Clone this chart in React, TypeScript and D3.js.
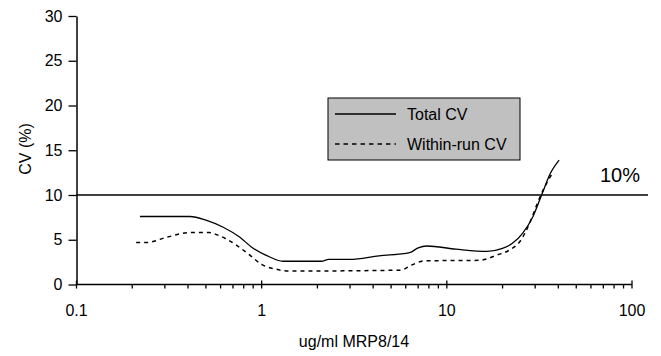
import * as d3 from 'd3';
import { useEffect, useRef } from 'react';

// MRP8/14 concentration (ug/ml) vs CV (%)
const totalX = [0.22, 0.41, 0.5, 0.62, 0.76, 0.88, 1.1, 1.3, 2.1, 2.3, 3.0, 4.3, 6.3, 7.0, 7.8, 11.2, 16.5, 19.8, 22.6, 25.7, 29.2, 32.5, 36.2, 40.4];
const totalCV = [7.6, 7.6, 7.2, 6.4, 5.3, 4.2, 3.1, 2.6, 2.6, 2.8, 2.8, 3.2, 3.55, 4.1, 4.3, 3.95, 3.7, 4.0, 4.6, 5.75, 7.6, 10.0, 12.4, 13.9];

const withinX = [0.21, 0.24, 0.31, 0.41, 0.52, 0.59, 0.73, 0.86, 1.0, 1.2, 1.4, 5.6, 6.5, 7.6, 15, 18.7, 21.8, 24.8, 28.2, 30.6, 33.2, 37.6];
const withinCV = [4.7, 4.7, 5.3, 5.8, 5.8, 5.45, 4.4, 3.3, 2.25, 1.7, 1.5, 1.6, 2.2, 2.65, 2.7, 3.3, 3.85, 4.8, 7.0, 8.9, 10.6, 12.6];

const xMajor = [0.1, 1, 10, 100];
const xLabels = ['0.1', '1', '10', '100'];
const yTicks = [0, 5, 10, 15, 20, 25, 30];
const limitCV = 10;

export default function App() {
  const ref = useRef<SVGSVGElement | null>(null);

  useEffect(() => {
    const svg = d3.select(ref.current);
    svg.selectAll('*').remove();
    const font = '"Liberation Sans", Arial, sans-serif';

    const x = d3.scaleLog().domain([0.1, 100]).range([76.5, 632]);
    const y = d3.scaleLinear().domain([0, 30]).range([284.5, 16]);

    // 10% line
    svg.append('line')
      .attr('x1', x(0.1)).attr('x2', 648)
      .attr('y1', y(limitCV)).attr('y2', y(limitCV))
      .attr('stroke', '#000').attr('stroke-width', 1.5);
    svg.append('text')
      .attr('x', 600).attr('y', 182)
      .attr('font-family', font).attr('font-size', 20)
      .text('10%');

    // y axis
    const ya = svg.append('g').attr('transform', `translate(${x(0.1)},0)`);
    ya.call(d3.axisLeft(y).tickValues(yTicks).tickSize(8).tickPadding(6).tickSizeOuter(0));
    ya.select('.domain').attr('stroke', '#000').attr('stroke-width', 1.5);
    ya.selectAll('.tick line').attr('stroke', '#000').attr('stroke-width', 1.3);
    ya.selectAll('text').attr('font-family', font).attr('font-size', 16).attr('fill', '#000');

    // x axis
    const minor: number[] = [];
    [0.1, 1, 10].forEach((d) => { for (let k = 2; k <= 9; k++) minor.push(d * k); });
    const xa = svg.append('g');
    xa.append('line')
      .attr('x1', x(0.1)).attr('x2', x(100))
      .attr('y1', y(0)).attr('y2', y(0))
      .attr('stroke', '#000').attr('stroke-width', 1.5);
    xa.selectAll('line.minor').data(minor).enter().append('line')
      .attr('class', 'minor')
      .attr('x1', (d) => x(d)).attr('x2', (d) => x(d))
      .attr('y1', y(0)).attr('y2', y(0) + 4)
      .attr('stroke', '#000').attr('stroke-width', 1.3);
    xa.selectAll('line.major').data(xMajor).enter().append('line')
      .attr('class', 'major')
      .attr('x1', (d) => x(d)).attr('x2', (d) => x(d))
      .attr('y1', y(0) - 4).attr('y2', y(0) + 4)
      .attr('stroke', '#000').attr('stroke-width', 1.3);
    xa.selectAll('text').data(xMajor).enter().append('text')
      .attr('x', (d) => x(d)).attr('y', 316)
      .attr('text-anchor', 'middle')
      .attr('font-family', font).attr('font-size', 16)
      .text((_, i) => xLabels[i]);

    svg.append('text')
      .attr('x', 354).attr('y', 347)
      .attr('text-anchor', 'middle')
      .attr('font-family', font).attr('font-size', 16)
      .text('ug/ml MRP8/14');
    svg.append('text')
      .attr('transform', 'translate(31,149) rotate(-90)')
      .attr('text-anchor', 'middle')
      .attr('font-family', font).attr('font-size', 16)
      .text('CV (%)');

    // series
    const line = d3.line<[number, number]>()
      .x((d) => x(d[0]))
      .y((d) => y(d[1]))
      .curve(d3.curveMonotoneX);
    svg.append('path')
      .datum(totalX.map((d, i) => [d, totalCV[i]] as [number, number]))
      .attr('d', line)
      .attr('fill', 'none').attr('stroke', '#000').attr('stroke-width', 1.3);
    svg.append('path')
      .datum(withinX.map((d, i) => [d, withinCV[i]] as [number, number]))
      .attr('d', line)
      .attr('fill', 'none').attr('stroke', '#000').attr('stroke-width', 1.5)
      .attr('stroke-dasharray', '4,4');

    // legend
    const lg = svg.append('g');
    lg.append('rect')
      .attr('x', 328).attr('y', 98).attr('width', 192).attr('height', 62)
      .attr('fill', '#c0c0c0').attr('stroke', '#000').attr('stroke-width', 1);
    const items = [
      { label: 'Total CV', dash: null as string | null, y: 114 },
      { label: 'Within-run CV', dash: '4.5,4', y: 144 }
    ];
    items.forEach((it) => {
      lg.append('line')
        .attr('x1', 335).attr('x2', 396).attr('y1', it.y).attr('y2', it.y)
        .attr('stroke', '#000').attr('stroke-width', 1.5)
        .attr('stroke-dasharray', it.dash);
      lg.append('text')
        .attr('x', 407).attr('y', it.y + 6)
        .attr('font-family', font).attr('font-size', 16)
        .text(it.label);
    });
  }, []);

  return (
    <div style={{ position: 'absolute', left: 0, top: 0 }}>
      <svg ref={ref} width={661} height={356} style={{ display: 'block', background: '#fff' }} />
    </div>
  );
}
